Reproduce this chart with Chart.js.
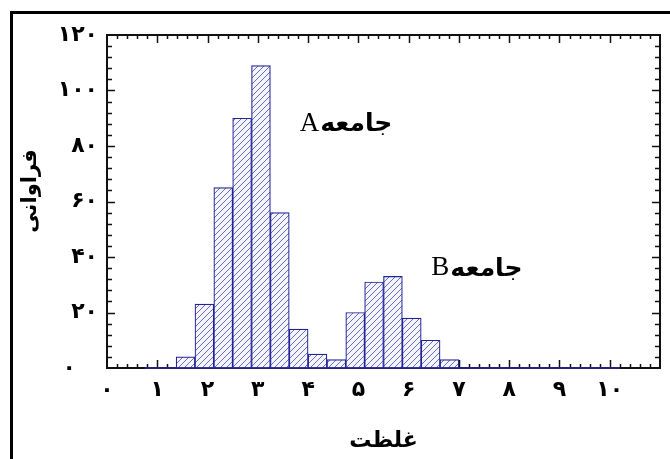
<!DOCTYPE html>
<html>
<head>
<meta charset="utf-8">
<script src="https://cdn.jsdelivr.net/npm/chart.js@4.4.1/dist/chart.umd.min.js"></script>
<style>
  html, body { margin: 0; padding: 0; background: #fff; }
  #wrap { position: relative; width: 670px; height: 459px; overflow: hidden; }
  #box { position: absolute; left: 10px; top: 11px; width: 700px; height: 500px; border: 3px solid #000; }
  canvas { position: absolute; left: 0; top: 0; }
</style>
</head>
<body>
<div id="wrap">
  <div id="box"></div>
  <canvas id="histChart" width="670" height="459"></canvas>
</div>
<script>
(function () {
  "use strict";

  // histogram bins (concentration) and counts
  var binEdges = [1.375, 1.75, 2.125, 2.5, 2.875, 3.25, 3.625, 4.0, 4.375, 4.75, 5.125, 5.5, 5.875, 6.25, 6.625, 7.0];
  var counts = [4, 23, 65, 90, 109, 56, 14, 5, 3, 20, 31, 33, 18, 10, 3];
  var baseRange = [0.75, 10.2];

  var xTicks = [0, 1, 2, 3, 4, 5, 6, 7, 8, 9, 10];
  var yTicks = [0, 20, 40, 60, 80, 100, 120];

  var groupWord = "جامعه";
  var groupNames = ["A", "B"];
  var groupX = [4.22, 6.81];
  var groupY = [88, 36];

  var xTitle = "غلظت";
  var yTitle = "فراوانی";

  var faDigits = ["۰", "۱", "۲", "۳", "۴", "۵", "۶", "۷", "۸", "۹"];
  function toFa(n) {
    return String(n).replace(/\d/g, function (d) { return faDigits[+d]; });
  }

  var bars = [];
  for (var i = 0; i < counts.length; i++) {
    bars.push({ x: (binEdges[i] + binEdges[i + 1]) / 2, y: counts[i] });
  }

  // diagonal hatch fill
  var tile = document.createElement("canvas");
  tile.width = 6;
  tile.height = 6;
  var tc = tile.getContext("2d");
  tc.fillStyle = "#f4f4fb";
  tc.fillRect(0, 0, 6, 6);
  tc.strokeStyle = "#5c5cb8";
  tc.lineWidth = 0.9;
  tc.beginPath();
  tc.moveTo(-1, 7); tc.lineTo(7, -1);
  tc.moveTo(-4, 4); tc.lineTo(4, -4);
  tc.moveTo(2, 10); tc.lineTo(10, 2);
  tc.stroke();
  var ctx0 = document.getElementById("histChart").getContext("2d");
  var hatch = ctx0.createPattern(tile, "repeat");

  var framePlugin = {
    id: "frame",
    beforeDatasetsDraw: function (chart) {
      var a = chart.chartArea, ctx = chart.ctx;
      var sx = chart.scales.x, sy = chart.scales.y;
      ctx.save();
      ctx.strokeStyle = "#111";
      ctx.lineWidth = 1.5;
      ctx.beginPath();
      for (var i = 1; i < 55; i++) {
        var px = Math.round(sx.getPixelForValue(i / 5)) + 0.5;
        var len = i % 5 === 0 ? 8 : 4;
        ctx.moveTo(px, a.top); ctx.lineTo(px, a.top + len);
        ctx.moveTo(px, a.bottom); ctx.lineTo(px, a.bottom - len);
      }
      for (var j = 1; j < 30; j++) {
        var py = Math.round(sy.getPixelForValue(j * 4)) + 0.5;
        var l2 = j % 5 === 0 ? 8 : 5;
        ctx.moveTo(a.left, py); ctx.lineTo(a.left + l2, py);
        ctx.moveTo(a.right, py); ctx.lineTo(a.right - l2, py);
      }
      ctx.stroke();
      ctx.lineWidth = 2;
      ctx.strokeRect(a.left, a.top, a.right - a.left, a.bottom - a.top);
      ctx.restore();
    },
    afterDatasetsDraw: function (chart) {
      var ctx = chart.ctx;
      var sx = chart.scales.x, sy = chart.scales.y;
      ctx.save();
      ctx.fillStyle = "#000";
      ctx.textBaseline = "middle";
      for (var k = 0; k < groupNames.length; k++) {
        var px = sx.getPixelForValue(groupX[k]);
        var py = sy.getPixelForValue(groupY[k]);
        ctx.font = "27px 'Liberation Serif'";
        ctx.textAlign = "right";
        ctx.fillText(groupNames[k], px, py);
        ctx.font = "bold 25px 'DejaVu Sans'";
        ctx.textAlign = "left";
        ctx.fillText(groupWord, px + 1, py + 1);
      }
      ctx.restore();
    }
  };

  var el = document.getElementById("histChart");
  if (el && typeof Chart !== "undefined") {
    new Chart(el, {
      type: "bar",
      data: {
        datasets: [
          {
            type: "line",
            data: [{ x: baseRange[0], y: 0 }, { x: baseRange[1], y: 0 }],
            borderColor: "#2a2a9c",
            borderWidth: 1.5,
            pointRadius: 0,
            clip: false,
            order: 0
          },
          {
            data: bars,
            backgroundColor: hatch,
            borderColor: "#22229a",
            borderWidth: 1.2,
            borderSkipped: false,
            barPercentage: 1,
            categoryPercentage: 1,
            grouped: false,
            order: 1
          }
        ]
      },
      options: {
        responsive: false,
        animation: false,
        events: [],
        layout: { padding: { left: 0, top: 35, right: 10, bottom: 0 } },
        plugins: { legend: { display: false }, tooltip: { enabled: false } },
        scales: {
          x: {
            type: "linear",
            offset: false,
            min: 0,
            max: 11,
            afterFit: function (s) { s.height = 91; },
            afterBuildTicks: function (s) {
              s.ticks = xTicks.map(function (v) { return { value: v }; });
            },
            grid: { display: false, drawTicks: false, offset: false },
            border: { display: false },
            ticks: {
              padding: 9,
              color: "#000",
              font: { family: "'DejaVu Sans'", size: 22, weight: "bold" },
              maxRotation: 0,
              autoSkip: false,
              callback: function (v) { return toFa(v); }
            },
            title: {
              display: true,
              text: xTitle,
              color: "#000",
              font: { family: "'DejaVu Sans'", size: 22, weight: "bold" },
              padding: { top: 0, bottom: 5 }
            }
          },
          y: {
            min: 0,
            max: 120,
            afterFit: function (s) { s.width = 107; },
            afterBuildTicks: function (s) {
              s.ticks = yTicks.map(function (v) { return { value: v }; });
            },
            grid: { display: false, drawTicks: false },
            border: { display: false },
            ticks: {
              padding: 9,
              color: "#000",
              font: { family: "'DejaVu Sans'", size: 22, weight: "bold" },
              callback: function (v) { return v === 0 ? toFa(v) + "\u2003" : toFa(v); }
            },
            title: {
              display: true,
              text: "\u2003" + yTitle,
              color: "#000",
              font: { family: "'DejaVu Sans'", size: 21, weight: "bold" },
              padding: { top: 18, bottom: 0 }
            }
          }
        }
      },
      plugins: [framePlugin]
    });
  }
})();
</script>
</body>
</html>
